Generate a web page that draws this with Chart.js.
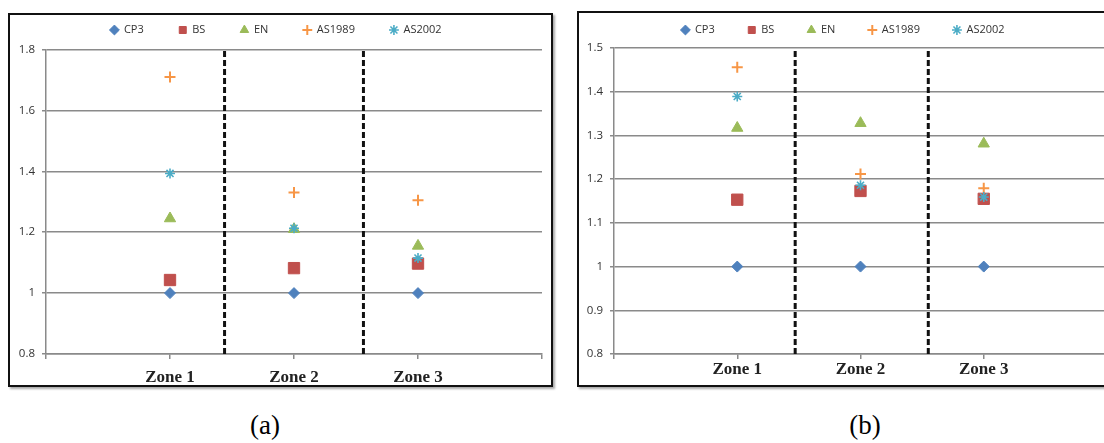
<!DOCTYPE html>
<html>
<head>
<meta charset="utf-8">
<script src="https://cdn.jsdelivr.net/npm/chart.js@4"></script>
<style>
html,body{margin:0;padding:0;background:#fff;overflow:hidden;width:1104px;height:443px;}
.frame{position:absolute;border:2px solid #111;box-shadow:2px 2px 2px #aaa;background:#fff;}
#fa{left:8px;top:13px;width:541px;height:370px;}
#fb{left:577px;top:11px;width:544px;height:372px;}
.frame canvas{display:block;}
.cap{position:absolute;top:412px;font:27px/1 "Liberation Serif",serif;color:#000;transform:translateX(-50%);}
</style>
</head>
<body>
<div class="frame" id="fa"><canvas id="ca" width="541" height="370"></canvas></div>
<div class="frame" id="fb"><canvas id="cb" width="544" height="372"></canvas></div>
<div class="cap" style="left:265px">(a)</div>
<div class="cap" style="left:865px">(b)</div>
<script>
// catégories / séries
const zones = ['Zone 1', 'Zone 2', 'Zone 3'];
const zoneX = [1, 2, 3];
const seriesNames = ['CP3', 'BS', 'EN', 'AS1989', 'AS2002'];

// panneau (a)
const aCP3    = [1.000, 1.000, 1.000];
const aBS     = [1.043, 1.082, 1.097];
const aEN     = [1.245, 1.210, 1.155];
const aAS1989 = [1.710, 1.330, 1.305];
const aAS2002 = [1.393, 1.213, 1.115];
const aDividers = [1.44, 2.56];
const aYTicks = [0.8, 1, 1.2, 1.4, 1.6, 1.8];

// panneau (b)
const bCP3    = [1.000, 1.000, 1.000];
const bBS     = [1.153, 1.173, 1.155];
const bEN     = [1.317, 1.328, 1.281];
const bAS1989 = [1.456, 1.212, 1.179];
const bAS2002 = [1.389, 1.186, 1.159];
const bDividers = [1.47, 2.55];
const bYTicks = [0.8, 0.9, 1, 1.1, 1.2, 1.3, 1.4, 1.5];

const styles = [
  {color:'#4f81bd', ps:'rectRot',  r:5.5, bw:1},
  {color:'#c0504d', ps:'rect',     r:8,   bw:1},
  {color:'#9bbb59', ps:'triangle', r:6.5, bw:1},
  {color:'#f79646', ps:'cross',    r:5.5, bw:2},
  {color:'#4bacc6', ps:'star',     r:5,   bw:1.6}
];
const GRID = '#8a8a8a';

// déplace la légende sans toucher à la zone de tracé
function legendPlace(h, textY, pad){
  return {
    id:'legendPlace',
    beforeLayout(chart){
      const lg = chart.legend;
      if (lg && !lg._patched){
        const fit = lg.fit;
        lg.fit = function(){ fit.call(this); this.height = h; };
        lg._patched = true;
      }
    },
    afterLayout(chart){
      const lg = chart.legend;
      lg.top += textY - (lg.top + pad + 5.5); // bottom inchangé (clip)
    }
  };
}

function makeChart(id, series, dividers, yTicks, o){
  const yMin = yTicks[0], yMax = yTicks[yTicks.length-1];
  const ds = series.map((vals,i)=>({
    label: seriesNames[i],
    data: vals.map((v,k)=>({x:zoneX[k], y:v})),
    pointStyle: styles[i].ps,
    pointRadius: styles[i].r,
    pointHoverRadius: styles[i].r,
    borderWidth: styles[i].bw,
    backgroundColor: styles[i].color,
    borderColor: styles[i].color,
    showLine:false,
    order: series.length - i
  }));
  dividers.forEach(d=>ds.push({
    type:'line', label:'', data:[{x:d,y:yMin},{x:d,y:yMax}],
    borderColor:'#111', borderWidth:3, borderDash:[6,3],
    pointRadius:0, showLine:true, order:20
  }));
  return new Chart(document.getElementById(id), {
    type:'scatter',
    data:{ datasets: ds },
    plugins:[legendPlace(o.legendH, o.legendY, o.legendPad)],
    options:{
      responsive:false, animation:false,
      layout:{padding:{left:0, right:o.padRight, top:0, bottom:0}},
      plugins:{
        tooltip:{enabled:false},
        legend:{
          position:'top',
          labels:{
            usePointStyle:true, boxWidth:8, boxHeight:7, padding:o.legendPad,
            color:'#333', font:{family:'"Open Sans", sans-serif', size:11},
            filter:(it)=>it.datasetIndex < series.length,
            sort:(a,b)=>a.datasetIndex - b.datasetIndex
          }
        }
      },
      scales:{
        x:{
          type:'linear', min:0, max:4,
          afterBuildTicks:s=>{ s.ticks = [0].concat(zoneX, [4]).map(v=>({value:v})); },
          afterFit:s=>{ s.height = 31; },
          ticks:{
            callback:v=>zones[zoneX.indexOf(v)] || '',
            color:'#222', padding:o.xPad, maxRotation:0, autoSkip:false,
            font:{family:'"Liberation Serif", serif', size:17, weight:'bold'}
          },
          grid:{drawOnChartArea:false, color:GRID, lineWidth:1.5, tickLength:5},
          border:{color:GRID, width:1.5}
        },
        y:{
          min:yMin, max:yMax,
          afterBuildTicks:s=>{ s.ticks = yTicks.map(v=>({value:v})); },
          afterFit:s=>{ s.width = o.yW; },
          ticks:{
            callback:v=>String(+v.toFixed(2)),
            color:'#333', padding:7,
            font:{family:'"Open Sans", sans-serif', size:11.5}
          },
          grid:{color:GRID, lineWidth:1.5, tickLength:4},
          border:{color:GRID, width:1.5}
        }
      }
    }
  });
}

makeChart('ca', [aCP3, aBS, aEN, aAS1989, aAS2002], aDividers, aYTicks,
  {legendH:34.5, legendY:15, legendPad:35, padRight:9, yW:36, xPad:8});
makeChart('cb', [bCP3, bBS, bEN, bAS1989, bAS2002], bDividers, bYTicks,
  {legendH:35, legendY:17, legendPad:33, padRight:16, yW:35, xPad:0});
</script>
</body>
</html>
